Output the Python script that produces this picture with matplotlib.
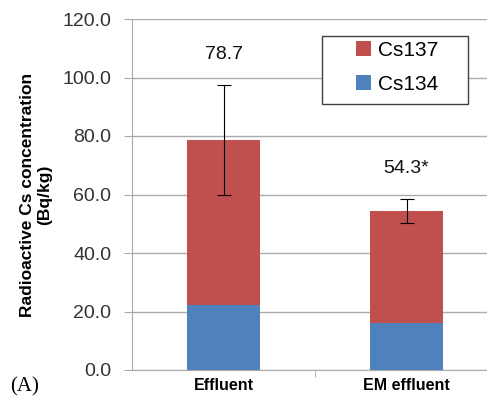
import matplotlib.pyplot as plt
from matplotlib.patches import Rectangle
import numpy as np

categories = ['Effluent', 'EM effluent']
cs134 = [22.2, 16.0]
cs137 = [56.5, 38.3]
totals = [78.7, 54.3]
errors = [18.9, 4.2]
labels = ['78.7', '54.3*']

blue = '#4F81BD'
red = '#C0504D'
grid_col = '#ABABAB'

fig = plt.figure(figsize=(4.87, 3.99), dpi=100)
ax = fig.add_axes([132 / 487, 29 / 399, 366 / 487, 351 / 399])

x = np.arange(len(categories))
w = 0.4
ax.bar(x, cs134, w, color=blue, label='Cs134', zorder=3)
ax.bar(x, cs137, w, bottom=cs134, color=red, label='Cs137', zorder=3)
ax.errorbar(x, totals, yerr=errors, fmt='none', ecolor='black', elinewidth=0.8,
            capsize=5, capthick=0.8, zorder=4)

for xi, t, e, lab in zip(x, totals, errors, labels):
    ax.text(xi, t + e + 7.5, lab, ha='center', va='bottom', fontsize=14,
            family='Liberation Sans', color='#111111')

ax.set_xlim(-0.5, 1.5)
ax.set_ylim(0, 120)
ax.set_yticks(np.arange(0, 121, 20))
ax.set_yticklabels([f'{v:.1f}' for v in np.arange(0, 121, 20)],
                   fontsize=14, family='Liberation Sans', color='#333333')
ax.yaxis.grid(True, color=grid_col, linewidth=1, zorder=0)
ax.tick_params(axis='y', length=6, color=grid_col, pad=9)

ax.set_xticks([0.5], minor=True)
ax.tick_params(axis='x', which='minor', length=5, color=grid_col)
ax.set_xticks(x)
ax.set_xticklabels(categories, fontsize=11.5, fontweight='bold', family='Liberation Sans')
ax.tick_params(axis='x', which='major', length=0, pad=6)

for s in ['top', 'right']:
    ax.spines[s].set_visible(False)
ax.spines['left'].set_color(grid_col)
ax.spines['bottom'].set_color(grid_col)

ax.set_ylabel('Radioactive Cs concentration\n(Bq/kg)', fontsize=12.5,
              fontweight='bold', family='Liberation Sans', labelpad=7,
              linespacing=1.25)

# legend box (Excel style, wide padding)
fig.add_artist(Rectangle((322 / 487, (399 - 104) / 399), 146 / 487, 68 / 399,
                         transform=fig.transFigure, facecolor='white',
                         edgecolor='#404040', linewidth=1, zorder=2))
handles, labs = ax.get_legend_handles_labels()
leg = fig.legend(handles[::-1], labs[::-1], loc='upper left',
                 bbox_to_anchor=(356 / 487, (399 - 41) / 399),
                 prop={'family': 'Liberation Sans', 'size': 15},
                 frameon=False, handlelength=0.7, handleheight=0.7,
                 handletextpad=0.35, borderpad=0, labelspacing=0.7,
                 borderaxespad=0)
leg.set_zorder(3)

fig.text(10 / 487, 8 / 399, '(A)', fontsize=15, family='Liberation Serif')

fig.savefig('out.png', dpi=100)
